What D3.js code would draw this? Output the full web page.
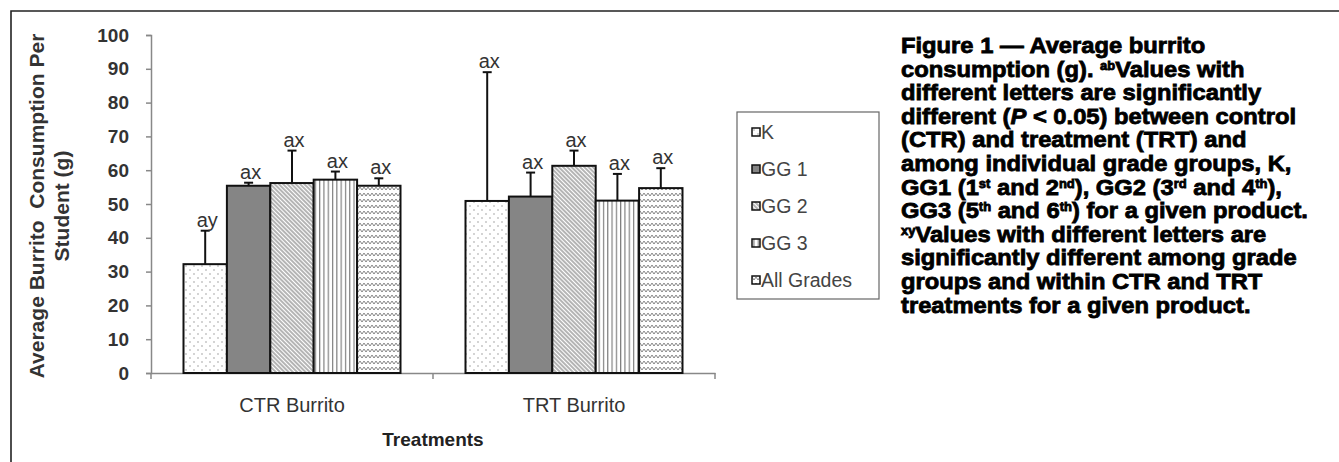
<!DOCTYPE html>
<html><head><meta charset="utf-8">
<script src="https://cdn.jsdelivr.net/npm/d3@7"></script>
<style>
html,body{margin:0;padding:0;background:#fff;}
svg{display:block;}
</style></head>
<body>
<svg id="c" width="1339" height="462"></svg>
<script>
// ---- data ----
const categories = ["CTR Burrito", "TRT Burrito"];
const series = ["K", "GG 1", "GG 2", "GG 3", "All Grades"];
const meansCTR = [32.2, 55.4, 56.2, 57.2, 55.4];
const meansTRT = [50.9, 52.2, 61.3, 51.0, 54.7];
const errCTR = [9.9, 0.9, 9.6, 2.4, 2.2];
const errTRT = [38.1, 7.1, 4.5, 7.9, 5.9];
const lettersCTR = ["ay", "ax", "ax", "ax", "ax"];
const lettersTRT = ["ax", "ax", "ax", "ax", "ax"];
const yTicks = [0, 10, 20, 30, 40, 50, 60, 70, 80, 90, 100];
const yTitle = ["Average Burrito\u00a0 Consumption Per", "Student (g)"];
const xTitle = "Treatments";

const means = [meansCTR, meansTRT];
const errs = [errCTR, errTRT];
const letters = [lettersCTR, lettersTRT];
const rows = [];
categories.forEach((c, ci) => series.forEach((s, si) => rows.push({
  cat: c, ser: s, si, v: means[ci][si], e: errs[ci][si], lab: letters[ci][si]
})));

const svg = d3.select("#c");
const defs = svg.append("defs");
const FONT = "Liberation Sans, Arial, sans-serif";

// ---- patterns ----
const pK = defs.append("pattern").attr("id", "p0").attr("patternUnits", "userSpaceOnUse").attr("width", 8).attr("height", 8);
pK.append("rect").attr("width", 8).attr("height", 8).attr("fill", "#fff");
pK.append("circle").attr("cx", 2).attr("cy", 2).attr("r", 0.7).attr("fill", "#888");
pK.append("circle").attr("cx", 6).attr("cy", 6).attr("r", 0.7).attr("fill", "#888");

const p2 = defs.append("pattern").attr("id", "p2").attr("patternUnits", "userSpaceOnUse").attr("width", 3).attr("height", 10).attr("patternTransform", "rotate(-45)");
p2.append("rect").attr("width", 3).attr("height", 10).attr("fill", "#fff");
p2.append("line").attr("x1", 1).attr("x2", 1).attr("y1", 0).attr("y2", 10).attr("stroke", "#777").attr("stroke-width", 1.1);

const p3 = defs.append("pattern").attr("id", "p3").attr("patternUnits", "userSpaceOnUse").attr("width", 4.3).attr("height", 10);
p3.append("rect").attr("width", 4.3).attr("height", 10).attr("fill", "#fff");
p3.append("line").attr("x1", 1.5).attr("x2", 1.5).attr("y1", 0).attr("y2", 10).attr("stroke", "#666").attr("stroke-width", 1);

const p4 = defs.append("pattern").attr("id", "p4").attr("patternUnits", "userSpaceOnUse").attr("width", 4).attr("height", 6);
p4.append("rect").attr("width", 4).attr("height", 6).attr("fill", "#fff");
p4.append("path").attr("d", "M0,1 L2,4 L4,1").attr("fill", "none").attr("stroke", "#777").attr("stroke-width", 0.9);

const fills = ["url(#p0)", "#858585", "url(#p2)", "url(#p3)", "url(#p4)"];

// ---- frame ----
svg.append("path").attr("d", "M11,462 L11,11 L1339,11").attr("fill", "none").attr("stroke", "#222").attr("stroke-width", 1.6);

// ---- scales ----
const x = d3.scaleBand().domain(categories).range([151, 715]);
const xs = d3.scaleBand().domain(series).range([32.5, x.bandwidth() - 32.5]);
const y = d3.scaleLinear().domain([0, 100]).range([373, 35]);

// ---- axes ----
const gy = svg.append("g").attr("transform", "translate(151,0)")
  .call(d3.axisLeft(y).tickValues(yTicks).tickSize(5).tickPadding(17));
gy.select(".domain").attr("stroke", "#888").attr("stroke-width", 1.5);
gy.selectAll(".tick line").attr("stroke", "#888").attr("stroke-width", 1.5);
gy.selectAll(".tick text").attr("font-family", FONT)
  .attr("font-size", 19).attr("font-weight", "bold").attr("fill", "#333");

const gx = svg.append("g").attr("transform", "translate(0,373)")
  .call(d3.axisBottom(x).tickSize(0).tickPadding(25));
gx.select(".domain").attr("stroke", "#888").attr("stroke-width", 1.5);
gx.selectAll(".tick text").attr("font-family", FONT)
  .attr("font-size", 20).attr("fill", "#333");
const bounds = categories.map(c => x(c)).concat([x.range()[1]]);
gx.selectAll(".bt").data(bounds).join("line").attr("class", "bt")
  .attr("x1", d => d).attr("x2", d => d).attr("y1", 0).attr("y2", 6)
  .attr("stroke", "#888").attr("stroke-width", 1.5);

// ---- bars ----
const bx = d => x(d.cat) + xs(d.ser);
svg.append("g").selectAll("rect").data(rows).join("rect")
  .attr("x", bx).attr("width", xs.bandwidth())
  .attr("y", d => y(d.v)).attr("height", d => y(0) - y(d.v))
  .attr("fill", d => fills[d.si]).attr("stroke", "#111").attr("stroke-width", 2);

// error bars
const eg = svg.append("g").attr("stroke", "#111").attr("stroke-width", 2);
eg.selectAll("line.v").data(rows).join("line").attr("class", "v")
  .attr("x1", d => bx(d) + xs.bandwidth() / 2).attr("x2", d => bx(d) + xs.bandwidth() / 2)
  .attr("y1", d => y(d.v)).attr("y2", d => y(d.v + d.e));
eg.selectAll("line.c").data(rows).join("line").attr("class", "c")
  .attr("x1", d => bx(d) + xs.bandwidth() / 2 - 4.5).attr("x2", d => bx(d) + xs.bandwidth() / 2 + 4.5)
  .attr("y1", d => y(d.v + d.e)).attr("y2", d => y(d.v + d.e));

// letters
svg.append("g").selectAll("text").data(rows).join("text")
  .attr("x", d => bx(d) + xs.bandwidth() / 2 + 2).attr("y", d => y(d.v + d.e) - 4)
  .attr("text-anchor", "middle").attr("font-family", FONT)
  .attr("font-size", 20).attr("fill", "#333").text(d => d.lab);

// ---- axis titles ----
const yt = svg.append("text").attr("transform", "translate(44,206) rotate(-90)")
  .attr("text-anchor", "middle").attr("font-family", FONT)
  .attr("font-size", 21).attr("font-weight", "bold").attr("fill", "#333");
yTitle.forEach((t, i) => yt.append("tspan").attr("x", 0).attr("dy", i === 0 ? 0 : 25).text(t));

svg.append("text").attr("x", d3.mean(x.range())).attr("y", 446).attr("text-anchor", "middle")
  .attr("font-family", FONT).attr("font-size", 19)
  .attr("font-weight", "bold").attr("fill", "#222").text(xTitle);

// ---- legend ----
const lg = svg.append("g");
lg.append("rect").attr("x", 737).attr("y", 112).attr("width", 142).attr("height", 187)
  .attr("fill", "#fff").attr("stroke", "#666").attr("stroke-width", 1.2);
const ly = d3.scalePoint().domain(series).range([132, 280]);
lg.selectAll("rect.m").data(series).join("rect").attr("class", "m")
  .attr("x", 752).attr("y", d => ly(d) - 4).attr("width", 8).attr("height", 8)
  .attr("fill", (d, i) => fills[i]).attr("stroke", "#111").attr("stroke-width", 1.5);
lg.selectAll("text").data(series).join("text")
  .attr("x", 761).attr("y", d => ly(d) + 7)
  .attr("font-family", FONT).attr("font-size", 19.5)
  .attr("fill", "#444").text(d => d);

// ---- caption ----
const capLines = [
  [["Figure 1 \u2014 Average burrito"]],
  [["consumption (g). "], ["ab", "sup"], ["Values with"]],
  [["different letters are significantly"]],
  [["different ("], ["P", "it"], [" < 0.05) between control"]],
  [["(CTR) and treatment (TRT) and"]],
  [["among individual grade groups, K,"]],
  [["GG1 (1"], ["st", "sup"], [" and 2"], ["nd", "sup"], ["), GG2 (3"], ["rd", "sup"], [" and 4"], ["th", "sup"], ["),"]],
  [["GG3 (5"], ["th", "sup"], [" and 6"], ["th", "sup"], [") for a given product."]],
  [["xy", "sup"], ["Values with different letters are"]],
  [["significantly different among grade"]],
  [["groups and within CTR and TRT"]],
  [["treatments for a given product."]]
];
const cap = svg.append("g").attr("transform", "translate(901,0) scale(1.08,1)")
  .attr("font-family", FONT)
  .attr("font-weight", "bold").attr("font-size", 22).attr("fill", "#000")
  .attr("stroke", "#000").attr("stroke-width", 0.8);
capLines.forEach((ln, i) => {
  const t = cap.append("text").attr("x", 0).attr("y", 53 + i * 23.6);
  ln.forEach(([s, k]) => {
    const sp = t.append("tspan").text(s);
    if (k === "sup") sp.attr("font-size", 12).attr("baseline-shift", "7");
    if (k === "it") sp.attr("font-style", "italic");
  });
});
</script>
</body></html>
